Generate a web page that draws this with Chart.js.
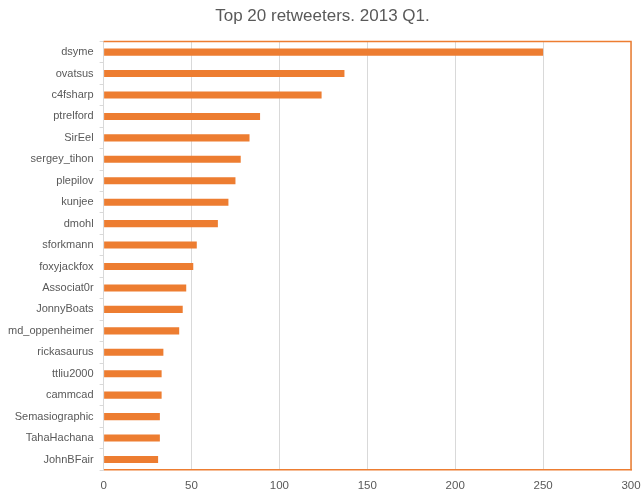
<!DOCTYPE html>
<html>
<head>
<meta charset="utf-8">
<script src="https://cdn.jsdelivr.net/npm/chart.js@4/dist/chart.umd.min.js"></script>
<style>
  html, body { margin: 0; padding: 0; background: #fff; }
  #wrap { width: 643px; height: 494px; }
</style>
</head>
<body>
<div id="wrap"><canvas id="grafico"></canvas></div>
<script>
const usuarios = ['dsyme', 'ovatsus', 'c4fsharp', 'ptrelford', 'SirEel', 'sergey_tihon', 'plepilov',
  'kunjee', 'dmohl', 'sforkmann', 'foxyjackfox', 'Associat0r', 'JonnyBoats', 'md_oppenheimer',
  'rickasaurus', 'ttliu2000', 'cammcad', 'Semasiographic', 'TahaHachana', 'JohnBFair'];
const retweets = [250, 137, 124, 89, 83, 78, 75, 71, 65, 53, 51, 47, 45, 43, 34, 33, 33, 32, 32, 31];
const escalaX = [0, 50, 100, 150, 200, 250, 300];

// moldura laranja no topo e na direita da area do grafico
const molduraPlugin = {
  id: 'moldura',
  afterDraw(chart) {
    const { ctx, chartArea } = chart;
    ctx.save();
    ctx.strokeStyle = '#ED7D31';
    ctx.lineWidth = 1.5;
    ctx.beginPath();
    ctx.moveTo(chartArea.left, chartArea.top);
    ctx.lineTo(chartArea.right, chartArea.top);
    ctx.lineTo(chartArea.right, chartArea.bottom);
    ctx.stroke();
    ctx.restore();
  }
};

const ctx = document.getElementById('grafico').getContext('2d');
const grafico = new Chart(ctx, {
  type: 'bar',
  data: {
    labels: usuarios,
    datasets: [{
      label: 'Retweets',
      data: retweets,
      backgroundColor: '#ED7D31',
      borderWidth: 0,
      barPercentage: 0.33,
      categoryPercentage: 1.0
    }]
  },
  options: {
    indexAxis: 'y',
    responsive: true,
    maintainAspectRatio: false,
    animation: false,
    layout: { padding: { left: 2, right: 0, top: 0, bottom: -8 } },
    plugins: {
      legend: { display: false },
      tooltip: { enabled: false },
      title: {
        display: true,
        text: 'Top 20 retweeters. 2013 Q1.',
        color: '#595959',
        font: { family: 'Liberation Sans', size: 17, weight: 'normal' },
        padding: { top: 6, bottom: 15 }
      }
    },
    scales: {
      x: {
        min: 0,
        max: 300,
        afterBuildTicks(axis) { axis.ticks = escalaX.map(v => ({ value: v })); },
        afterFit(axis) { axis.paddingRight = 12; },
        grid: { color: '#d9d9d9', lineWidth: 1, drawTicks: false },
        border: { color: '#ED7D31', width: 1.5 },
        ticks: {
          color: '#595959',
          font: { family: 'Liberation Sans', size: 11.5 },
          padding: 9
        }
      },
      y: {
        grid: {
          offset: true,
          drawOnChartArea: false,
          tickLength: 4,
          color: '#d9d9d9'
        },
        border: { color: '#d9d9d9', width: 1 },
        ticks: {
          color: '#595959',
          font: { family: 'Liberation Sans', size: 11 },
          padding: 6,
          autoSkip: false
        }
      }
    }
  },
  plugins: [molduraPlugin]
});
</script>
</body>
</html>
